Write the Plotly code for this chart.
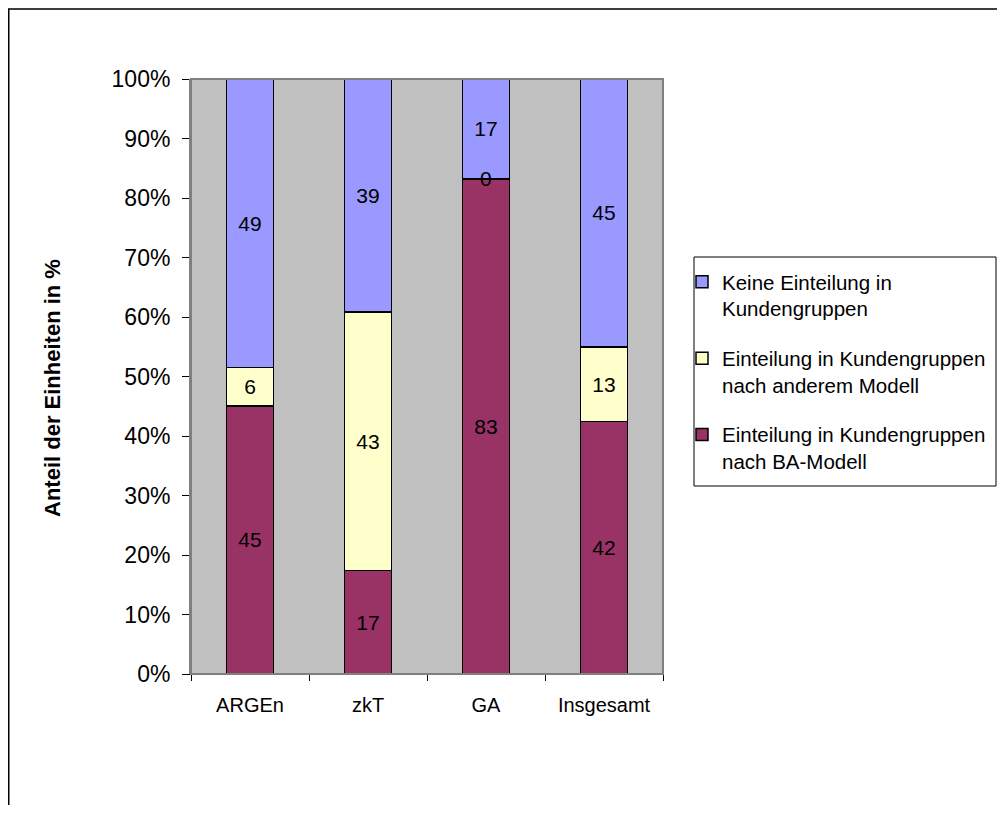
import plotly.graph_objects as go

categories = ["ARGEn", "zkT", "GA", "Insgesamt"]
ba_modell = [45.2, 17.4, 83.2, 42.4]
anderes_modell = [6.5, 43.4, 0.0, 12.6]
keine = [48.6, 39.2, 16.8, 45.0]

names = [
    "Einteilung in Kundengruppen<br>nach BA-Modell",
    "Einteilung in Kundengruppen<br>nach anderem Modell",
    "Keine Einteilung in<br>Kundengruppen",
]
colors = ["#993366", "#FFFFCC", "#9999FF"]
ranks = [3, 2, 1]
series = [ba_modell, anderes_modell, keine]

totals = [a + b + c for a, b, c in zip(ba_modell, anderes_modell, keine)]

FONT = "Liberation Sans, Arial, sans-serif"

fig = go.Figure()
for i, (name, col, vals) in enumerate(zip(names, colors, series)):
    pct = [v / t * 100 for v, t in zip(vals, totals)]
    text = [f"{v:.0f}" if v > 0 else "" for v in vals]
    fig.add_trace(go.Bar(
        x=categories, y=pct, name=name, text=text,
        textposition="inside", insidetextanchor="middle",
        textangle=0, constraintext="none",
        textfont=dict(family=FONT, size=21, color="black"),
        marker=dict(color=col, line=dict(color="black", width=1.5)),
        legendgroup=str(i), legendrank=ranks[i],
    ))

annotations = []
# zero-valued segments get their label at the stack boundary
for j, cat in enumerate(categories):
    if anderes_modell[j] == 0:
        yb = ba_modell[j] / totals[j] * 100
        annotations.append(dict(x=cat, y=yb, xref="x", yref="y", text="0",
                                showarrow=False, yanchor="middle",
                                font=dict(family=FONT, size=21, color="black")))

OFF = 8  # page body margin
W, H = 1005 - 2 * OFF, 813 - 2 * OFF
L, T = 191 - OFF, 79 - OFF
R = W - (663 - OFF)
B = H - (674 - OFF)
pw = W - L - R
ph = H - T - B


def px_x(x):
    return (x - OFF - L) / pw


def px_y(y):
    return (H - B - (y - OFF)) / ph


annotations.append(dict(
    text="<b>Anteil der Einheiten in %</b>", textangle=-90,
    x=px_x(53), y=px_y(388), xref="paper", yref="paper",
    showarrow=False, font=dict(family=FONT, size=22, color="black"),
    xanchor="center", yanchor="middle"))

shapes = [
    dict(type="rect", xref="paper", yref="paper", x0=0, x1=1, y0=0, y1=1,
         line=dict(color="#808080", width=2), layer="above"),
    dict(type="rect", xref="paper", yref="paper",
         x0=px_x(8.75), x1=px_x(1020), y0=px_y(830), y1=px_y(9),
         line=dict(color="black", width=1.5)),
    dict(type="rect", xref="paper", yref="paper",
         x0=px_x(694), x1=px_x(996), y0=px_y(486), y1=px_y(257),
         line=dict(color="black", width=1), fillcolor="white", layer="below"),
]

fig.update_layout(
    barmode="stack", bargap=0.6,
    width=W, height=H,
    margin=dict(l=L, r=R, t=T, b=B, autoexpand=False),
    paper_bgcolor="white", plot_bgcolor="#C0C0C0",
    font=dict(family=FONT, size=21, color="black"),
    showlegend=True,
    legend=dict(
        traceorder="grouped", x=px_x(682), xanchor="left",
        y=px_y(262), yanchor="top", valign="top",
        borderwidth=0, bgcolor="rgba(0,0,0,0)",
        font=dict(family=FONT, size=20.5, color="black"),
        tracegroupgap=20,
    ),
    xaxis=dict(
        showgrid=False, showline=True, linecolor="black", linewidth=1,
        ticks="outside", tickson="boundaries", ticklen=6, tickcolor="black",
        tickfont=dict(family=FONT, size=20), ticklabelstandoff=13,
    ),
    yaxis=dict(
        range=[0, 100], dtick=10, ticksuffix="%", showgrid=False,
        showline=True, linecolor="#808080", linewidth=2,
        ticks="outside", ticklen=7, tickcolor="black",
        tickfont=dict(family=FONT, size=23), ticklabelstandoff=7,
        zeroline=False,
    ),
    annotations=annotations, shapes=shapes,
)

fig.write_html("out.html")
